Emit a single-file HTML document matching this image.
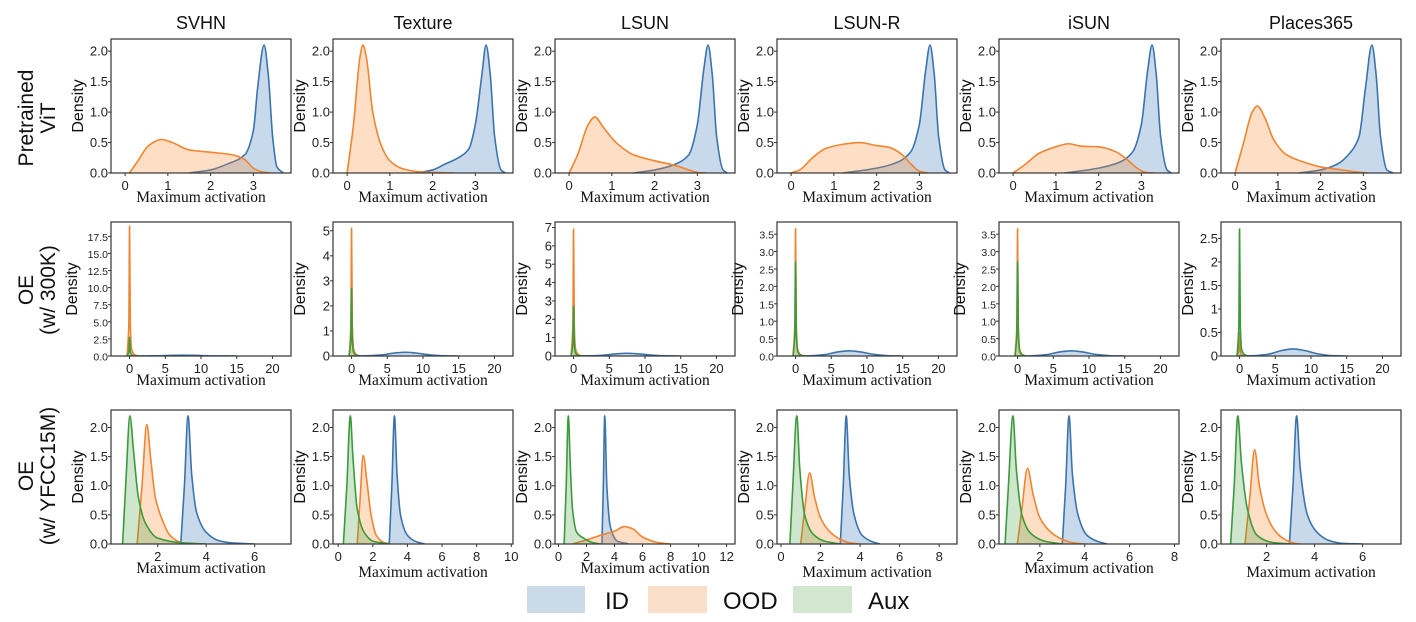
<!DOCTYPE html>
<html><head><meta charset="utf-8"><style>
html,body{margin:0;padding:0;background:#fff;}
svg{display:block;}
.tick{font-family:"Liberation Sans",sans-serif;font-size:13px;fill:#222;}
.tks{font-family:"Liberation Sans",sans-serif;font-size:10.5px;fill:#222;}
.dens{font-family:"Liberation Sans",sans-serif;font-size:16px;fill:#111;}
.xl{font-family:"Liberation Serif",serif;font-size:15.5px;fill:#111;}
.ttl{font-family:"Liberation Sans",sans-serif;font-size:18px;fill:#111;}
.row{font-family:"Liberation Sans",sans-serif;font-size:21px;fill:#111;}
.leg{font-family:"Liberation Sans",sans-serif;font-size:24px;fill:#111;}
</style></head><body>
<svg id="fig" width="1416" height="622" viewBox="0 0 1416 622" xmlns="http://www.w3.org/2000/svg">
<g><text class="row" transform="translate(33,118) rotate(-90)" text-anchor="middle">Pretrained</text><text class="row" transform="translate(55,118) rotate(-90)" text-anchor="middle">ViT</text></g>
<g><text class="row" transform="translate(33,290) rotate(-90)" text-anchor="middle">OE</text><text class="row" transform="translate(55,290) rotate(-90)" text-anchor="middle">(w/ 300K)</text></g>
<g><text class="row" transform="translate(33,476) rotate(-90)" text-anchor="middle">OE</text><text class="row" transform="translate(55,476) rotate(-90)" text-anchor="middle">(w/ YFCC15M)</text></g>
<g>
<rect x="527" y="586" width="58" height="27" fill="#cbdae9"/><text class="leg" x="605" y="609">ID</text>
<rect x="648" y="586" width="59" height="27" fill="#f9dfca"/><text class="leg" x="723" y="609">OOD</text>
<rect x="793" y="586" width="59" height="27" fill="#d2e6d0"/><text class="leg" x="868" y="609">Aux</text>
</g>
</svg>
<script>
// ---- data: titles ----
const datasets = ["SVHN","Texture","LSUN","LSUN-R","iSUN","Places365"];
// ---- row 1: pretrained ViT (x, density) ----
const r1SvhnID = [[1.5,0],[2.0,0.05],[2.4,0.15],[2.8,0.3],[3.0,0.7],[3.1,1.4],[3.25,2.1],[3.35,1.6],[3.45,0.6],[3.55,0.1],[3.7,0]];
const r1SvhnOOD = [[0.1,0],[0.3,0.2],[0.55,0.45],[0.85,0.55],[1.1,0.5],[1.5,0.38],[2.0,0.34],[2.5,0.3],[2.8,0.22],[3.0,0.08],[3.2,0.02],[3.4,0]];
const r1TexID = [[1.6,0],[2.0,0.05],[2.3,0.15],[2.6,0.25],[2.85,0.4],[3.0,0.8],[3.15,1.6],[3.25,2.1],[3.35,1.6],[3.45,0.6],[3.6,0.05],[3.7,0]];
const r1TexOOD = [[0,0],[0.15,0.8],[0.3,1.9],[0.37,2.1],[0.45,1.9],[0.6,1.0],[0.8,0.45],[1.0,0.2],[1.3,0.07],[1.7,0.02],[2.5,0]];
const r1LsunID = [[1.5,0],[2.0,0.05],[2.5,0.15],[2.8,0.3],[3.0,0.8],[3.15,1.7],[3.25,2.1],[3.35,1.6],[3.45,0.6],[3.6,0.05],[3.7,0]];
const r1LsunOOD = [[0,0],[0.2,0.3],[0.45,0.8],[0.6,0.92],[0.8,0.75],[1.1,0.5],[1.5,0.3],[2.0,0.2],[2.5,0.12],[2.8,0.05],[3.0,0.01],[3.2,0]];
const r1LsunrID = [[1.2,0],[2.0,0.08],[2.5,0.18],[2.8,0.35],[3.0,0.8],[3.15,1.7],[3.25,2.1],[3.35,1.6],[3.45,0.6],[3.6,0.05],[3.7,0]];
const r1LsunrOOD = [[0,0],[0.2,0.05],[0.5,0.25],[0.8,0.4],[1.2,0.47],[1.6,0.5],[2.0,0.45],[2.3,0.42],[2.6,0.3],[2.8,0.15],[3.0,0.03],[3.2,0]];
const r1IsunID = [[1.2,0],[2.0,0.08],[2.5,0.18],[2.8,0.35],[3.0,0.8],[3.15,1.7],[3.25,2.1],[3.35,1.6],[3.45,0.6],[3.6,0.05],[3.7,0]];
const r1IsunOOD = [[0,0],[0.3,0.15],[0.6,0.32],[1.0,0.43],[1.3,0.48],[1.6,0.44],[2.0,0.43],[2.4,0.35],[2.7,0.2],[2.9,0.08],[3.1,0.01],[3.3,0]];
const r1PlacesID = [[1.5,0],[2.0,0.05],[2.4,0.15],[2.65,0.3],[2.9,0.6],[3.05,1.4],[3.2,2.1],[3.3,1.6],[3.4,0.6],[3.55,0.05],[3.7,0]];
const r1PlacesOOD = [[0,0],[0.2,0.5],[0.4,1.0],[0.52,1.1],[0.7,0.9],[0.9,0.55],[1.2,0.3],[1.6,0.18],[2.0,0.1],[2.4,0.06],[2.8,0.02],[3.1,0]];
// ---- row 2: OE w/300K peak heights ----
const r2OODPeak = [19.0,5.1,6.9,3.65,3.65,0.5];
const r2AuxPeak = [2.7,2.7,2.7,2.7,2.7,2.7];
const r2IDBump = [0.12,0.15,0.15,0.15,0.15,0.15];
const r2SpikeShape = [[-0.35,0],[-0.1,0.25],[0,1],[0.1,0.25],[0.3,0.05],[0.7,0.01],[1.2,0]];
const r2BumpShape = [[0,0],[2,0.05],[4,0.25],[6,0.8],[7.5,1],[9,0.8],[11,0.3],[13,0.05],[15,0]];
// ---- row 3: OE w/YFCC15M ----
const r3SvhnAux = [[0.55,0],[0.7,1.2],[0.85,2.2],[1.0,1.6],[1.2,0.8],[1.5,0.35],[2.0,0.1],[3.0,0.02],[4,0]];
const r3SvhnOOD = [[1.15,0],[1.35,1.0],[1.55,2.05],[1.7,1.5],[1.9,0.8],[2.2,0.4],[2.5,0.15],[3.0,0.02],[3.3,0]];
const r3SvhnID = [[2.95,0],[3.1,1.0],[3.25,2.2],[3.4,1.2],[3.6,0.55],[4.0,0.2],[4.5,0.06],[5.0,0.02],[6,0]];
const r3TexAux = [[0.3,0],[0.5,1.0],[0.7,2.2],[0.85,1.5],[1.1,0.6],[1.5,0.2],[2,0.05],[3,0]];
const r3TexOOD = [[1.1,0],[1.25,0.7],[1.45,1.52],[1.65,1.1],[1.9,0.5],[2.2,0.15],[2.6,0.03],[3,0]];
const r3TexID = [[2.95,0],[3.1,1.0],[3.25,2.2],[3.4,1.2],[3.6,0.5],[4,0.15],[4.5,0.04],[5,0]];
const r3LsunAux = [[0.4,0],[0.55,1.0],[0.7,2.2],[0.85,1.3],[1.0,0.6],[1.3,0.2],[1.8,0.1],[2.5,0.02],[3,0]];
const r3LsunOOD = [[1.0,0],[2.0,0.07],[3.0,0.15],[4.0,0.22],[4.7,0.3],[5.3,0.26],[6.0,0.12],[7,0.03],[8,0]];
const r3LsunID = [[3.1,0],[3.2,1.0],[3.3,2.2],[3.45,1.0],[3.7,0.3],[4.2,0.05],[5,0]];
const r3LsunrAux = [[0.45,0],[0.6,1.0],[0.8,2.2],[0.95,1.3],[1.2,0.5],[1.6,0.18],[2.2,0.05],[3,0]];
const r3LsunrOOD = [[1.0,0],[1.2,0.6],[1.45,1.22],[1.7,0.8],[2.0,0.45],[2.5,0.2],[3.0,0.08],[3.5,0.02],[4,0]];
const r3LsunrID = [[3.0,0],[3.15,1.0],[3.3,2.2],[3.45,1.2],[3.7,0.5],[4.1,0.15],[4.6,0.04],[5,0]];
const r3IsunAux = [[0.45,0],[0.6,1.0],[0.8,2.2],[0.95,1.3],[1.2,0.5],[1.6,0.18],[2.2,0.05],[3,0]];
const r3IsunOOD = [[1.0,0],[1.2,0.6],[1.45,1.3],[1.7,0.85],[2.0,0.45],[2.5,0.2],[3.0,0.08],[3.5,0.02],[4,0]];
const r3IsunID = [[3.0,0],[3.15,1.0],[3.3,2.2],[3.45,1.2],[3.7,0.5],[4.1,0.15],[4.6,0.04],[5,0]];
const r3PlacesAux = [[0.5,0],[0.65,1.0],[0.8,2.2],[0.95,1.4],[1.2,0.6],[1.6,0.15],[2.2,0.03],[3,0]];
const r3PlacesOOD = [[1.1,0],[1.3,0.8],[1.5,1.62],[1.7,1.0],[2.0,0.5],[2.4,0.2],[2.8,0.07],[3.2,0.01],[3.4,0]];
const r3PlacesID = [[2.95,0],[3.1,1.0],[3.25,2.2],[3.4,1.3],[3.7,0.5],[4.1,0.2],[4.6,0.06],[5.2,0.01],[6,0]];
// ---- ticks ----
const r1XTicks = [0,1,2,3];
const r1YTicks = [0,0.5,1.0,1.5,2.0];
const r2XTicks = [0,5,10,15,20];
const r2YTicks = [[0,2.5,5,7.5,10,12.5,15,17.5],[0,1,2,3,4,5],[0,1,2,3,4,5,6,7],[0,0.5,1,1.5,2,2.5,3,3.5],[0,0.5,1,1.5,2,2.5,3,3.5],[0,0.5,1,1.5,2,2.5]];
const r2YMax = [19.6,5.35,7.3,3.85,3.85,2.85];
const r3XTicks = [[2,4,6],[0,2,4,6,8,10],[0,2,4,6,8,10,12],[0,2,4,6,8],[2,4,6,8],[2,4,6]];
const r3XDom = [[0.07,7.5],[-0.3,10.1],[-0.25,12.6],[-0.2,8.9],[0.18,8.2],[0.1,7.6]];
const r3YTicks = [0,0.5,1.0,1.5,2.0];

const COL = {ID:["#3b74ad","rgba(40,110,175,0.26)"],OOD:["#ef8530","rgba(250,140,50,0.28)"],Aux:["#3c9a3c","rgba(60,160,60,0.26)"]};
const NS="http://www.w3.org/2000/svg";
const svg=document.getElementById('fig');
const LEFTS=[111,333,555,777,999,1221], PW=180, TOPS=[39,222,410], PH=134;
function el(tag,attrs,parent){const e=document.createElementNS(NS,tag);for(const k in attrs)e.setAttribute(k,attrs[k]);(parent||svg).appendChild(e);return e;}
function mono(pts){
  const n=pts.length;if(n<2)return "";
  const dx=[],m=[],t=[];
  for(let i=0;i<n-1;i++){dx[i]=pts[i+1][0]-pts[i][0];m[i]=(pts[i+1][1]-pts[i][1])/(dx[i]||1e-9);}
  t[0]=m[0];t[n-1]=m[n-2];
  for(let i=1;i<n-1;i++){t[i]=(m[i-1]*m[i]<=0)?0:3*(dx[i-1]+dx[i])/((2*dx[i]+dx[i-1])/m[i-1]+(dx[i]+2*dx[i-1])/m[i]);}
  let d="M"+pts[0][0].toFixed(2)+","+pts[0][1].toFixed(2);
  for(let i=0;i<n-1;i++){const h=dx[i]/3;
    d+="C"+(pts[i][0]+h).toFixed(2)+","+(pts[i][1]+t[i]*h).toFixed(2)+" "+(pts[i+1][0]-h).toFixed(2)+","+(pts[i+1][1]-t[i+1]*h).toFixed(2)+" "+pts[i+1][0].toFixed(2)+","+pts[i+1][1].toFixed(2);}
  return d;}
function panel(r,c,xd,yMax,xt,yt,series,small){
  const x0=LEFTS[c],y0=TOPS[r];
  const g=el('g',{});
  
  
  const sx=v=>x0+(v-xd[0])/(xd[1]-xd[0])*PW;
  const sy=v=>y0+PH-v/yMax*PH;
  const clip='clip'+r+c;
  const cp=el('clipPath',{id:clip},g);el('rect',{x:x0,y:y0,width:PW,height:PH},cp);
  const cg=el('g',{'clip-path':'url(#'+clip+')'},g);
  series.forEach(s=>{
    const pts=s.data.map(p=>[sx(p[0]),sy(p[1])]);
    const d=mono(pts);
    const f=el('path',{d:d+"L"+pts[pts.length-1][0].toFixed(2)+","+(y0+PH)+"L"+pts[0][0].toFixed(2)+","+(y0+PH)+"Z",fill:COL[s.k][1],stroke:'none'},cg);
    
    
    const l=el('path',{d:d,fill:'none',stroke:COL[s.k][0],'stroke-width':1.6},cg);
    
    
  });
  const bx=el('rect',{x:x0,y:y0,width:PW,height:PH,fill:'none',stroke:'#333','stroke-width':1.2},g);
  
  
  xt.forEach(v=>{const X=sx(v);el('line',{x1:X,x2:X,y1:y0+PH,y2:y0+PH+3,stroke:'#333'},g);
    const t=el('text',{x:X,y:y0+PH+17,'text-anchor':'middle',class:'tick'},g);t.textContent=String(v);
    
    });
  yt.forEach(v=>{const Y=sy(v);el('line',{x1:x0-3,x2:x0,y1:Y,y2:Y,stroke:'#333'},g);
    const t=el('text',{x:x0-3,y:Y+4.5,'text-anchor':'end',class:small?'tks':'tick'},g);
    t.textContent=(small&&v%1===0)?v.toFixed(1):(r!==1&&v%1===0?v.toFixed(1):String(v));
    
    });
  const yl=el('text',{class:'dens',transform:'translate('+(x0-(small?34:28))+','+(y0+PH/2)+') rotate(-90)','text-anchor':'middle'},g);yl.textContent='Density';
  
  
  const xl=el('text',{class:'xl',x:x0+PW/2,y:y0+PH+(r===2?(c%2===1?33:29):29),'text-anchor':'middle'},g);xl.textContent='Maximum activation';
  
  
}
datasets.forEach((n,c)=>{const t=el('text',{class:'ttl',x:LEFTS[c]+PW/2,y:29,'text-anchor':'middle'});t.textContent=n;
  
  });
const r1 = [[r1SvhnID,r1SvhnOOD],[r1TexID,r1TexOOD],[r1LsunID,r1LsunOOD],[r1LsunrID,r1LsunrOOD],[r1IsunID,r1IsunOOD],[r1PlacesID,r1PlacesOOD]];
r1.forEach((s,c)=>panel(0,c,[-0.33,3.88],2.2,r1XTicks,r1YTicks,[{k:'ID',data:s[0]},{k:'OOD',data:s[1]}],false));
for(let c=0;c<6;c++){
  const ood=r2SpikeShape.map(p=>[p[0],p[1]*r2OODPeak[c]]);
  const aux=r2SpikeShape.map(p=>[p[0],p[1]*r2AuxPeak[c]]);
  const id=r2BumpShape.map(p=>[p[0],p[1]*r2IDBump[c]]);
  const small=[0,3,4].includes(c);
  panel(1,c,[-2.6,22.6],r2YMax[c],r2XTicks,r2YTicks[c],[{k:'ID',data:id},{k:'OOD',data:ood},{k:'Aux',data:aux}],small);
}
const r3 = [[r3SvhnID,r3SvhnOOD,r3SvhnAux],[r3TexID,r3TexOOD,r3TexAux],[r3LsunID,r3LsunOOD,r3LsunAux],[r3LsunrID,r3LsunrOOD,r3LsunrAux],[r3IsunID,r3IsunOOD,r3IsunAux],[r3PlacesID,r3PlacesOOD,r3PlacesAux]];
r3.forEach((s,c)=>panel(2,c,r3XDom[c],2.3,r3XTicks[c],r3YTicks,[{k:'ID',data:s[0]},{k:'OOD',data:s[1]},{k:'Aux',data:s[2]}],false));
</script>
</body></html>
